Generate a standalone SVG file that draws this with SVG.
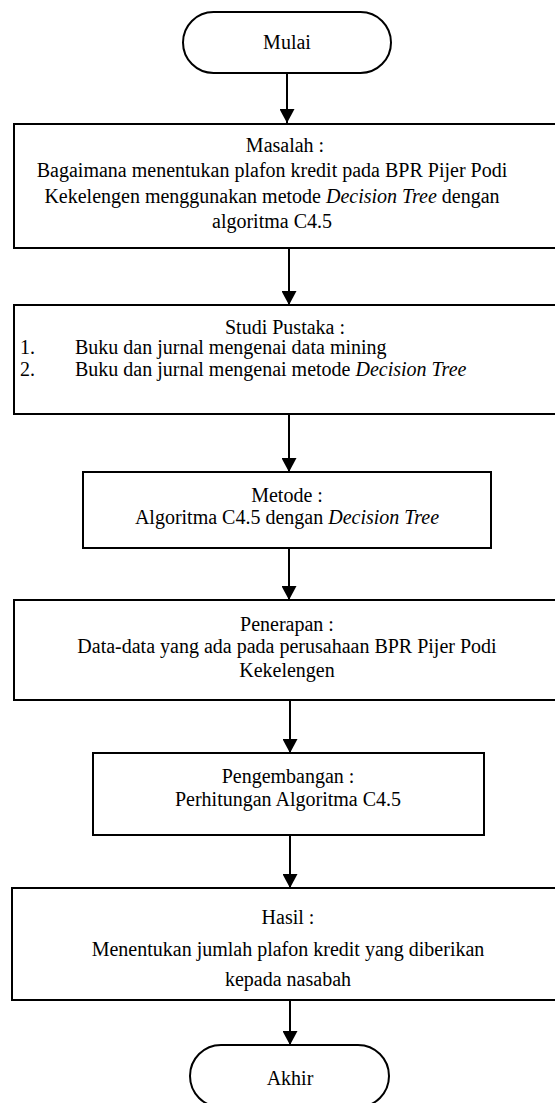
<svg xmlns="http://www.w3.org/2000/svg" width="555" height="1103" viewBox="0 0 555 1103">
<defs>
<marker id="ah" viewBox="0 0 14 15" refX="14" refY="7.5" markerWidth="14" markerHeight="15" markerUnits="userSpaceOnUse" orient="auto">
<path d="M0,0 L14,7.5 L0,15 Z" fill="#000"/>
</marker>
<style>
.box{fill:#fff;stroke:#000;stroke-width:2}
text{font-family:'Liberation Serif','Times New Roman',Tinos,'DejaVu Serif',serif;font-size:20px;fill:#000}
.t{text-anchor:middle}
.c{stroke:#000;stroke-width:2;fill:none;marker-end:url(#ah)}
</style>
</defs>
<rect width="555" height="1103" fill="#fff"/>
<g id="connectors">
<line class="c" x1="287" y1="74" x2="287" y2="123"/>
<line class="c" x1="289" y1="249" x2="289" y2="305"/>
<line class="c" x1="289" y1="415" x2="289" y2="472"/>
<line class="c" x1="289" y1="548" x2="289" y2="600"/>
<line class="c" x1="290" y1="701" x2="290" y2="753"/>
<line class="c" x1="290" y1="835" x2="290" y2="888"/>
<line class="c" x1="290" y1="1001" x2="290" y2="1045"/>
</g>
<g id="mulai">
<rect class="box" x="183" y="12" width="208" height="61" rx="30.5"/>
<text class="t" x="287" y="49" font-family="Liberation Serif, serif">Mulai</text>
</g>
<g id="masalah">
<rect class="box" x="14" y="124" width="560" height="124"/>
<text class="t" x="285" y="152" font-family="Liberation Serif, serif">Masalah :</text>
<text class="t" x="272" y="177" font-family="Liberation Serif, serif">Bagaimana menentukan plafon kredit pada BPR Pijer Podi</text>
<text class="t" x="272" y="203" font-family="Liberation Serif, serif">Kekelengen menggunakan metode <tspan font-style="italic">Decision Tree</tspan> dengan</text>
<text class="t" x="272" y="228" font-family="Liberation Serif, serif">algoritma C4.5</text>
</g>
<g id="studi">
<rect class="box" x="14" y="305" width="560" height="109"/>
<text class="t" x="285" y="334" font-family="Liberation Serif, serif">Studi Pustaka :</text>
<text x="20" y="354" font-family="Liberation Serif, serif">1.</text>
<text x="75" y="354" font-family="Liberation Serif, serif">Buku dan jurnal mengenai data mining</text>
<text x="20" y="376" font-family="Liberation Serif, serif">2.</text>
<text x="75" y="376" font-family="Liberation Serif, serif">Buku dan jurnal mengenai metode <tspan font-style="italic">Decision Tree</tspan></text>
</g>
<g id="metode">
<rect class="box" x="83" y="472" width="408" height="76"/>
<text class="t" x="287" y="502" font-family="Liberation Serif, serif">Metode :</text>
<text class="t" x="287" y="524" font-family="Liberation Serif, serif">Algoritma C4.5 dengan <tspan font-style="italic">Decision Tree</tspan></text>
</g>
<g id="penerapan">
<rect class="box" x="14" y="600" width="560" height="100"/>
<text class="t" x="287" y="631" font-family="Liberation Serif, serif">Penerapan :</text>
<text class="t" x="287" y="653" font-family="Liberation Serif, serif">Data-data yang ada pada perusahaan BPR Pijer Podi</text>
<text class="t" x="287" y="677" font-family="Liberation Serif, serif">Kekelengen</text>
</g>
<g id="pengembangan">
<rect class="box" x="93" y="753" width="391" height="82"/>
<text class="t" x="288" y="783" font-family="Liberation Serif, serif">Pengembangan :</text>
<text class="t" x="288" y="806" font-family="Liberation Serif, serif">Perhitungan Algoritma C4.5</text>
</g>
<g id="hasil">
<rect class="box" x="12" y="888" width="560" height="112"/>
<text class="t" x="288" y="924" font-family="Liberation Serif, serif">Hasil :</text>
<text class="t" x="288" y="956" font-family="Liberation Serif, serif">Menentukan jumlah plafon kredit yang diberikan</text>
<text class="t" x="288" y="986" font-family="Liberation Serif, serif">kepada nasabah</text>
</g>
<g id="akhir">
<rect class="box" x="190" y="1045" width="199" height="62" rx="31"/>
<text class="t" x="290" y="1085" font-family="Liberation Serif, serif">Akhir</text>
</g>
</svg>
